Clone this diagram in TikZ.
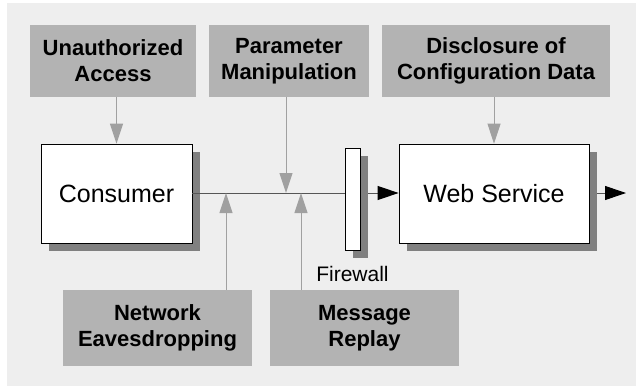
\documentclass[tikz,border=0pt]{standalone}
\usepackage{fontspec}
\setmainfont{Liberation Sans}
\usepackage{tikz}
\usetikzlibrary{positioning,arrows.meta,shadows}
\usepackage{xcolor}

\definecolor{bggray}{HTML}{EEEEEE}
\definecolor{threatgray}{HTML}{B3B3B3}
\definecolor{shadegray}{HTML}{808080}
\definecolor{feedgray}{HTML}{A0A0A0}
\definecolor{wiregray}{HTML}{555555}

\tikzset{
    threat/.style={fill=threatgray, inner sep=0pt, align=center,
        font=\fontsize{22}{26}\selectfont\bfseries},
    party/.style={draw=black, fill=white, line width=0.8pt, inner sep=0pt,
        general shadow={fill=shadegray, shadow xshift=8pt, shadow yshift=-8pt},
        font=\fontsize{25}{30}\selectfont},
    feed/.style={-{Triangle[length=20pt, width=13pt]}, draw=feedgray, fill=feedgray, line width=1pt},
    flow/.style={-{Triangle[length=21pt, width=14pt, black]}, draw=wiregray, line width=1pt}
}

\begin{document}
\begin{tikzpicture}[x=1pt, y=1pt]

    % Canvas
    \useasboundingbox (0,0) rectangle (636,386);
    \fill[bggray] (7,0) rectangle (636,383);

    % Threat boxes, top row
    \node[threat, minimum width=166pt, minimum height=72pt] (unauth) at (113,325) {Unauthorized\\Access};
    \node[threat, minimum width=160pt, minimum height=72pt] (param) at (289,325) {Parameter\\Manipulation};
    \node[threat, minimum width=228pt, minimum height=72pt] (disclose) at (496,325) {Disclosure of\\Configuration Data};

    % Threat boxes, bottom row
    \node[threat, minimum width=189pt, minimum height=76pt] (sniff) at (157.5,58) {Network\\Eavesdropping};
    \node[threat, minimum width=189pt, minimum height=76pt] (replay) at (364.5,58) {Message\\Replay};

    % Parties and firewall
    \node[party, minimum width=151pt, minimum height=99pt] (consumer) at (116.5,192.5) {Consumer};
    \node[party, minimum width=190pt, minimum height=99pt] (service) at (494,192.5) {Web Service};
    \node[party, minimum width=15pt, minimum height=102pt] (firewall) at (352.5,187) {};
    \node[font=\fontsize{21}{25}\selectfont, below=12pt of firewall] (fwlabel) {Firewall};

    % Taps on the wire
    \coordinate (tapparam) at (286,193);
    \coordinate (tapsniff) at (226,193);
    \coordinate (tapreplay) at (301,193);
    \coordinate (outside) at (626,193);

    % Message path
    \draw[wiregray, line width=1pt] (consumer.east |- tapparam) -- (firewall.west |- tapparam);
    \draw[flow] ([xshift=8pt]firewall.east |- tapparam) -- (service.west |- tapparam);
    \draw[flow] ([xshift=8pt]service.east |- tapparam) -- (outside);

    % Attacks
    \draw[feed] (consumer.north |- unauth.south) -- (consumer.north);
    \draw[feed] (tapparam |- param.south) -- (tapparam);
    \draw[feed] (service.north |- disclose.south) -- (service.north);
    \draw[feed] (tapsniff |- sniff.north) -- (tapsniff);
    \draw[feed] (tapreplay |- replay.north) -- (tapreplay);

\end{tikzpicture}
\end{document}
